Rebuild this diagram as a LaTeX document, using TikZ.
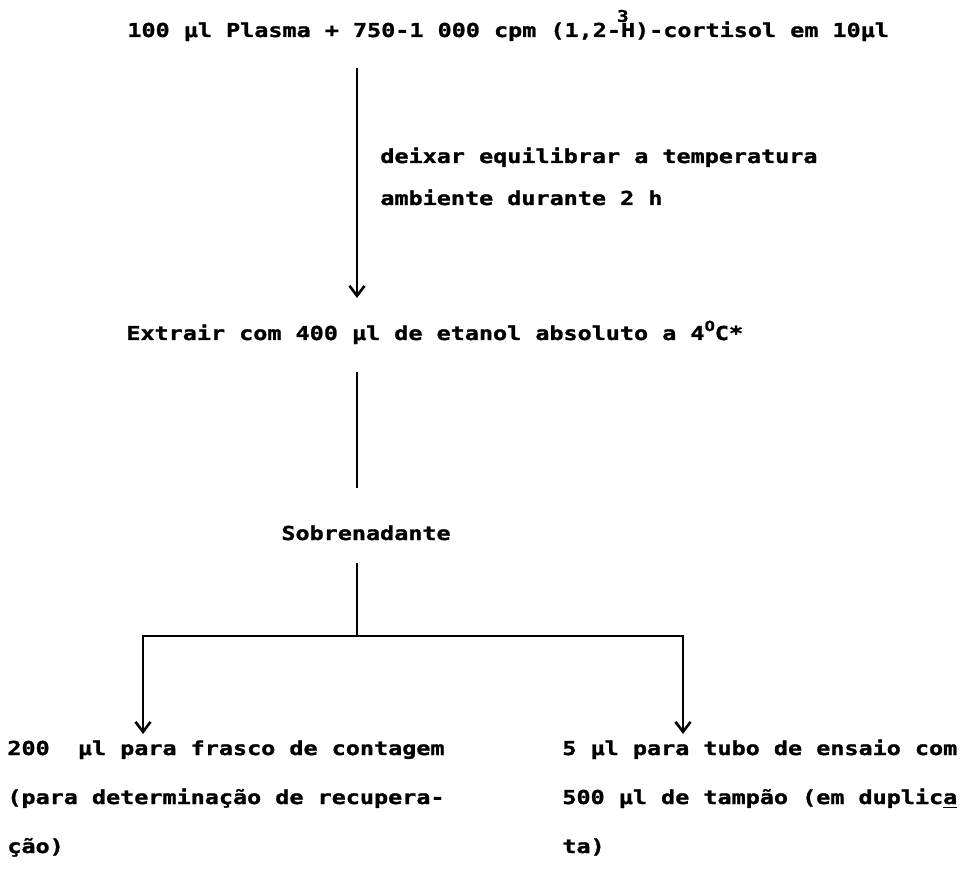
\documentclass[tikz,border=0pt]{standalone}
\usepackage{fontspec}
\setmainfont{DejaVu Sans Mono}[FakeStretch=1.22, BoldFeatures={FakeBold=1.3}]
\usetikzlibrary{arrows.meta,positioning}
\tikzset{
  txt/.style={anchor=base west, inner sep=0pt, font=\bfseries\fontsize{9.6pt}{11pt}\selectfont},
  link/.style={line width=1.4pt},
  flow/.style={link, -{Straight Barb[length=5pt,width=7.5pt,line width=1.3pt]}}
}
\newcommand{\upthree}{\makebox[0pt][l]{\hspace{-2pt}\raisebox{7.6pt}{\fontsize{8pt}{8pt}\selectfont 3}}}
\newcommand{\updeg}{\raisebox{4.5pt}{\fontsize{7pt}{7pt}\selectfont O}}
\frenchspacing

\begin{document}
\begin{tikzpicture}[x=0.5pt,y=0.5pt]
  \useasboundingbox (0,0) rectangle (963,895);

  % texts
  \node[txt] (plasma) at (127,858) {100 µl Plasma + 750-1 000 cpm (1,2-\upthree H)-cortisol em 10µl};
  \node[txt] (wait1) at (380,732) {deixar equilibrar a temperatura};
  \node[txt] (wait2) at ([yshift=-21pt]wait1.base west) {ambiente durante 2 h};
  \node[txt] (extract) at (126,555) {Extrair com 400 µl de etanol absoluto a 4\updeg C*};
  \node[txt] (sobre) at (281,355) {Sobrenadante};
  \node[txt] (count1) at (7,140) {200\ \ µl para frasco de contagem};
  \node[txt] (count2) at ([yshift=-24.5pt]count1.base west) {(para determinação de recupera-};
  \node[txt] (count3) at ([yshift=-24.5pt]count2.base west) {ção)};
  \node[txt] (tube1) at (562,140) {5 µl para tubo de ensaio com};
  \node[txt] (tube2) at ([yshift=-24.5pt]tube1.base west) {500 µl de tampão (em duplic\underline{a}};
  \node[txt] (tube3) at ([yshift=-24.5pt]tube2.base west) {ta)};

  % spine
  \coordinate (s1) at (357,827);
  \coordinate (s2) at (357,597);
  \coordinate (s3) at (357,523);
  \coordinate (s4) at (357,407);
  \coordinate (s5) at (357,332);
  \coordinate (split) at (357,259);
  \draw[flow] (s1) -- (s2);
  \draw[link] (s3) -- (s4);
  \draw[link] (s5) -- (split);

  % branches
  \foreach[count=\i] \x in {143,683}
  {
    \coordinate (h\i) at (\x,259);
    \coordinate (t\i) at (\x,161);
    \draw[flow] (split) -- (h\i) -- (t\i);
  }
\end{tikzpicture}
\end{document}
